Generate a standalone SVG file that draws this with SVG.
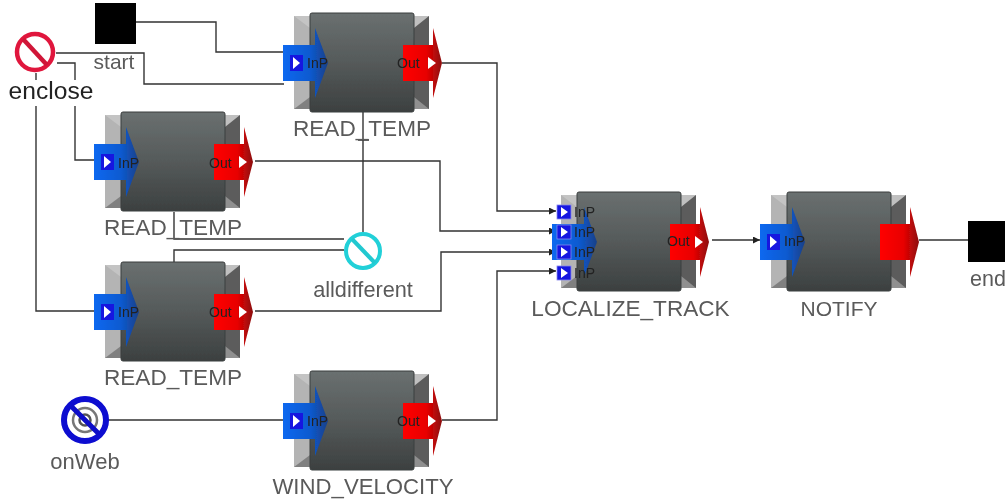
<svg xmlns="http://www.w3.org/2000/svg" width="1005" height="501" viewBox="0 0 1005 501">
<style>
.ln{fill:none;stroke:#333;stroke-width:1.4}
.lb{font-family:"Liberation Sans",Arial,sans-serif;font-size:22.6px;fill:#5a5a5a;text-anchor:middle}
.pt{font-family:"Liberation Sans",Arial,sans-serif;font-size:14px;fill:#222}
</style>
<defs>
<filter id="soft" filterUnits="userSpaceOnUse" x="0" y="0" width="1005" height="501"><feGaussianBlur stdDeviation="0.6"/></filter>
<linearGradient id="body" x1="0" y1="0" x2="0" y2="1"><stop offset="0" stop-color="#6a7070"/><stop offset="0.5" stop-color="#555a5a"/><stop offset="1" stop-color="#3c4040"/></linearGradient>
<linearGradient id="blue" x1="0" y1="0" x2="1" y2="0"><stop offset="0" stop-color="#0a68f0"/><stop offset="0.6" stop-color="#0d5ad0"/><stop offset="1" stop-color="#1a4088"/></linearGradient>
<linearGradient id="red" x1="0" y1="0" x2="1" y2="0"><stop offset="0" stop-color="#ff0000"/><stop offset="0.6" stop-color="#e80000"/><stop offset="1" stop-color="#8c1010"/></linearGradient>
<marker id="arr" markerWidth="8" markerHeight="8" refX="7" refY="3.5" orient="auto" markerUnits="userSpaceOnUse"><path d="M0,0 L7,3.5 L0,7 Z" fill="#222"/></marker>
<g id="box">
<path d="M-16,3 H0 V96 H-16 Z" fill="#b4b4b4"/>
<path d="M-16,3 H0 V15 Z" fill="#c4c4c4"/>
<path d="M-16,96 H0 V84 Z" fill="#808080"/>
<path d="M104,3 H119 V96 H104 Z" fill="#5c5c5c"/>
<path d="M104,3 H119 L104,15 Z" fill="#c0c0c0"/>
<path d="M104,96 H119 L104,84 Z" fill="#909090"/>
<rect x="0" y="0" width="104" height="99" rx="2" fill="url(#body)" stroke="#3a3e3e"/>
</g>
<g id="inport">
<path d="M-27,32 H5 V15 L18,50 L5,85 V68 H-27 Z" fill="url(#blue)"/>
</g>
<g id="icoIn">
<rect x="-20" y="42" width="13" height="16" fill="#1414e0"/>
<path d="M-17,44 L-10,50 L-17,56 Z" fill="#fff"/>
</g>
<g id="outport">
<path d="M93,32 H123 V15 L132,50 L123,85 V68 H93 Z" fill="url(#red)"/>
</g>
<path id="icoOut" d="M118,44 L126,50 L118,56 Z" fill="#fff"/>
<g id="mini">
<rect x="0" y="0" width="14" height="14" fill="#1414e0" stroke="#8888ee" stroke-width="0.8"/>
<path d="M4,2 L11,7 L4,12 Z" fill="#fff"/>
</g>
</defs>
<rect width="1005" height="501" fill="#fff"/>
<g filter="url(#soft)">
<g id="connectors">
<path class="ln" d="M136,22 H216 V52 H284"/>
<path class="ln" d="M56,53 H144 V84 H284"/>
<path class="ln" d="M57,63 H75 V80 M75,106 V160 H95"/>
<path class="ln" d="M36,73 V80 M36,106 V311 H95"/>
<path class="ln" d="M442,63 H497 V211 H556" marker-end="url(#arr)"/>
<path class="ln" d="M255,161 H440 V231 H556" marker-end="url(#arr)"/>
<path class="ln" d="M255,311 H441 V252 H556" marker-end="url(#arr)"/>
<path class="ln" d="M442,420 H497 V271 H556" marker-end="url(#arr)"/>
<path class="ln" d="M363,112 V232 M358,140 H369"/>
<path class="ln" d="M174,212 V239 H344 M174,262 V250 H344"/>
<path class="ln" d="M106,420 H284"/>
<path class="ln" d="M712,240 H760" marker-end="url(#arr)"/>
<path class="ln" d="M919,240 H968"/>
</g>
<g id="start"><rect x="95" y="3" width="41" height="41" fill="#000"/><text class="lb" x="114" y="69" style="font-size:21px">start</text></g>
<g id="enclose">
<circle cx="35" cy="52" r="18" fill="#fff" stroke="#e0183c" stroke-width="4.5"/>
<path d="M23,39 L47,65" stroke="#d01838" stroke-width="4.5"/>
<text class="lb" x="51" y="99" style="fill:#222;font-size:24.6px">enclose</text>
</g>
<g id="read1" transform="translate(310,13)">
<use href="#box"/><use href="#inport"/><use href="#outport"/><use href="#icoIn"/><use href="#icoOut"/>
<text class="pt" x="-3" y="55">InP</text><text class="pt" x="87" y="55">Out</text>
<text class="lb" x="52" y="123">READ_TEMP</text>
</g>
<g id="read2" transform="translate(121,112)">
<use href="#box"/><use href="#inport"/><use href="#outport"/><use href="#icoIn"/><use href="#icoOut"/>
<text class="pt" x="-3" y="56">InP</text><text class="pt" x="88" y="56">Out</text>
<text class="lb" x="52" y="123">READ_TEMP</text>
</g>
<g id="read3" transform="translate(121,262)">
<use href="#box"/><use href="#inport"/><use href="#outport"/><use href="#icoIn"/><use href="#icoOut"/>
<text class="pt" x="-3" y="55">InP</text><text class="pt" x="88" y="55">Out</text>
<text class="lb" x="52" y="123">READ_TEMP</text>
</g>
<g id="wind" transform="translate(310,371)">
<use href="#box"/><use href="#inport"/><use href="#outport"/><use href="#icoIn"/><use href="#icoOut"/>
<text class="pt" x="-3" y="55">InP</text><text class="pt" x="87" y="55">Out</text>
<text class="lb" x="53" y="123" style="font-size:22.2px">WIND_VELOCITY</text>
</g>
<g id="localize" transform="translate(577,192)">
<use href="#box"/><use x="2" href="#inport"/><use href="#outport"/><use href="#icoOut"/>
<use href="#mini" x="-20" y="13"/><use href="#mini" x="-20" y="33"/><use href="#mini" x="-20" y="53"/><use href="#mini" x="-20" y="74"/>
<text class="pt" x="-3" y="25">InP</text><text class="pt" x="-3" y="45">InP</text><text class="pt" x="-3" y="65">InP</text><text class="pt" x="-3" y="86">InP</text>
<text class="pt" x="90" y="54">Out</text>
<text class="lb" x="53.5" y="124">LOCALIZE_TRACK</text>
</g>
<g id="notify" transform="translate(787,192)">
<use href="#box"/><use href="#inport"/><use href="#outport"/><use href="#icoIn"/>
<text class="pt" x="-3" y="54">InP</text>
<text class="lb" x="52" y="124" style="font-size:21px">NOTIFY</text>
</g>
<g id="alldifferent">
<circle cx="363" cy="251" r="17" fill="#fff" stroke="#20d0d8" stroke-width="4"/>
<path d="M352,239 L375,263" stroke="#20c8d0" stroke-width="4"/>
<text class="lb" x="363" y="297" style="font-size:21.7px">alldifferent</text>
</g>
<g id="onWeb">
<circle cx="85" cy="420" r="21" fill="#fff" stroke="#0808d0" stroke-width="6"/>
<circle cx="85" cy="420" r="12" fill="none" stroke="#777" stroke-width="2.5"/>
<circle cx="85" cy="420" r="5.5" fill="none" stroke="#555" stroke-width="2.5"/>
<path d="M71,406 L99,434" stroke="#0808c8" stroke-width="5"/>
<text class="lb" x="85" y="469" style="font-size:22px">onWeb</text>
</g>
<g id="end"><rect x="968" y="221" width="37" height="41" fill="#000"/><text class="lb" x="970" y="286" style="text-anchor:start;font-size:21.5px">end</text></g>
</g>
</svg>
